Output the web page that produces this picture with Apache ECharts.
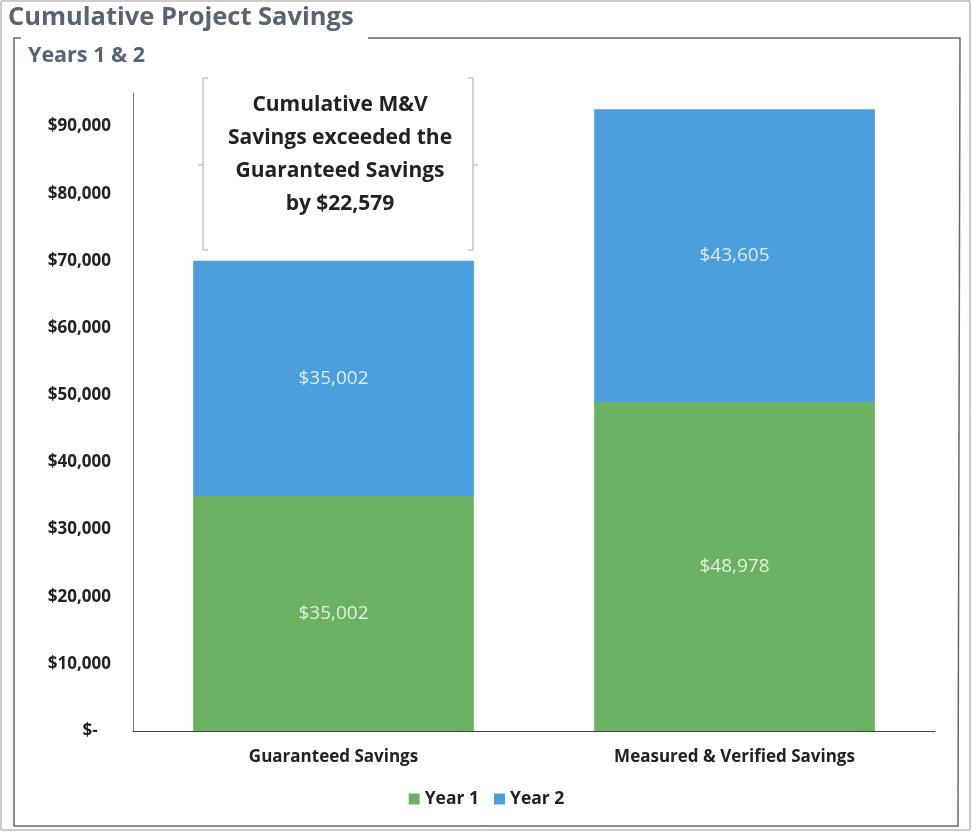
<!DOCTYPE html>
<html>
<head>
<meta charset="utf-8">
<script src="https://cdn.jsdelivr.net/npm/echarts@6/dist/echarts.min.js"></script>
<style>
  html, body { margin: 0; padding: 0; background: #fff; }
  #chart { width: 973px; height: 833px; }
</style>
</head>
<body>
<div id="chart"></div>
<script>
// data
var categories = ['Guaranteed Savings', 'Measured & Verified Savings']
var year1 = [35002, 48978]
var year2 = [35002, 43605]
var noteLines = ['Cumulative M&V', 'Savings exceeded the', 'Guaranteed Savings', 'by $22,579']

var FONT = '"Open Sans", Lato, sans-serif'
var GREEN = '#6cb263'
var BLUE = '#4a9fdc'

function money(v) {
    if (v === 0) return '$-   '
    return '$' + v.toLocaleString('en-US')
}

var labelStyle = {
    show: true,
    position: 'inside',
    color: 'rgba(255,255,255,0.8)',
    fontFamily: FONT,
    fontSize: 19,
    formatter: function (p) { return money(p.value) }
}

// bracket box around the note
var bx0 = 203, bx1 = 473, by0 = 78, by1 = 250, bym = 165
var bracketStyle = { stroke: '#a8a8a8', lineWidth: 1 }

var myChart = echarts.init(document.getElementById('chart'))
myChart.setOption({
    animation: false,
    backgroundColor: '#fff',
    title: [{
        text: 'Cumulative Project Savings',
        left: 3, top: 0,
        textStyle: { fontFamily: FONT, fontSize: 25.5, fontWeight: 'bold', color: '#566473' }
    }, {
        text: 'Years 1 & 2',
        left: 23, top: 40,
        textStyle: { fontFamily: FONT, fontSize: 21.5, fontWeight: 'bold', color: '#566473' }
    }],
    legend: {
        bottom: 20,
        left: 'center',
        itemWidth: 11, itemHeight: 11, itemGap: 15,
        icon: 'rect',
        textStyle: { fontFamily: FONT, fontSize: 17.5, fontWeight: 'bold', color: '#222' },
        data: ['Year 1', 'Year 2']
    },
    grid: { left: 133, right: 38, top: 93, bottom: 102 },
    xAxis: {
        type: 'category',
        data: categories,
        axisLine: { lineStyle: { color: '#444', width: 1 } },
        axisTick: { show: false },
        axisLabel: { fontFamily: FONT, fontSize: 17, fontWeight: 'bold', color: '#222', margin: 18 }
    },
    yAxis: {
        type: 'value',
        min: 0, max: 95000, interval: 10000,
        axisLine: { show: true, lineStyle: { color: '#777' } },
        axisTick: { show: false },
        splitLine: { show: false },
        axisLabel: {
            showMaxLabel: false,
            fontFamily: FONT, fontSize: 17, fontWeight: 'bold', color: '#222', margin: 22,
            formatter: function (v) { return v % 10000 === 0 ? money(v) : '' }
        }
    },
    series: [{
        name: 'Year 1', type: 'bar', stack: 'total', barWidth: '70%',
        itemStyle: { color: GREEN },
        label: labelStyle,
        data: year1
    }, {
        name: 'Year 2', type: 'bar', stack: 'total', barWidth: '70%',
        itemStyle: { color: BLUE },
        label: labelStyle,
        data: year2
    }],
    graphic: [
        // outer page border
        { type: 'rect', shape: { x: 1, y: 1, width: 969, height: 829 }, style: { fill: null, stroke: '#999', lineWidth: 1 } },
        // chart frame
        { type: 'polyline', shape: { points: [[368, 38], [960, 38], [958, 826], [14, 826], [14, 38], [21, 38]] }, style: { fill: null, stroke: '#666', lineWidth: 1.5 } },
        // note brackets
        { type: 'polyline', shape: { points: [[bx0 + 5, by0], [bx0, by0], [bx0, by1], [bx0 + 5, by1]] }, style: bracketStyle },
        { type: 'line', shape: { x1: bx0 - 5, y1: bym, x2: bx0, y2: bym }, style: bracketStyle },
        { type: 'polyline', shape: { points: [[bx1 - 5, by0], [bx1, by0], [bx1, by1], [bx1 - 5, by1]] }, style: bracketStyle },
        { type: 'line', shape: { x1: bx1, y1: bym, x2: bx1 + 5, y2: bym }, style: bracketStyle },
        {
            type: 'text',
            x: (bx0 + bx1) / 2 + 2, y: 155,
            style: {
                text: noteLines.join('\n'),
                fontFamily: FONT, fontSize: 21, fontWeight: 'bold', fill: '#222',
                lineHeight: 33, align: 'center', verticalAlign: 'middle'
            }
        }
    ]
})
</script>
</body>
</html>
